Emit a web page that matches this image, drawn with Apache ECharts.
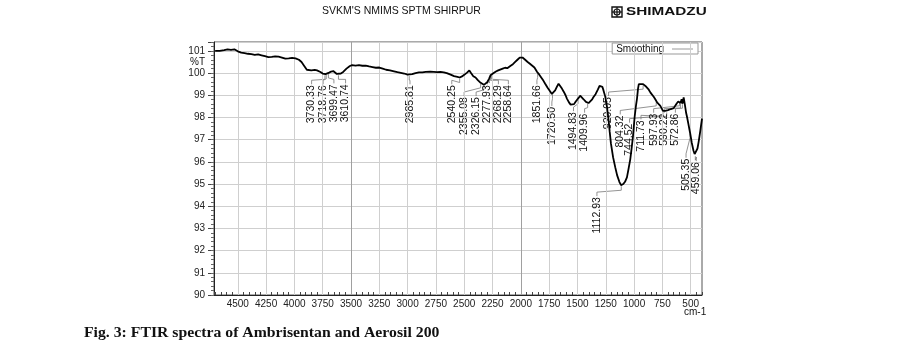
<!DOCTYPE html>
<html><head><meta charset="utf-8">
<script src="https://cdn.jsdelivr.net/npm/echarts@6/dist/echarts.min.js"></script>
<style>html,body{margin:0;padding:0;background:#fff}#c{width:903px;height:348px}</style>
</head><body><div id="c"></div>
<script>
// ---- data ----
const wavenumbers = [4700,4660,4620,4590,4560,4530,4500,4470,4440,4410,4380,4350,4320,4290,4260,4230,4200,4170,4140,4110,4080,4050,4020,3990,3960,3937,3910,3890,3878,3850,3820,3800,3770,3750,3740,3725,3710,3693,3675,3657,3640,3625,3613,3590,3569,3540,3510,3490,3460,3430,3400,3370,3340,3310,3280,3250,3220,3190,3156,3120,3090,3060,3030,3000,2986,2960,2930,2900,2870,2840,2800,2770,2740,2710,2680,2654,2620,2590,2560,2540,2520,2500,2475,2455,2440,2420,2400,2380,2355,2340,2326,2310,2295,2280,2268,2258,2240,2220,2200,2183,2160,2140,2120,2110,2090,2070,2050,2030,2010,2000,1985,1962,1940,1920,1903,1880,1856,1840,1820,1800,1785,1765,1745,1726,1710,1697,1680,1667,1655,1637,1620,1605,1593,1575,1560,1544,1530,1515,1500,1490,1476,1460,1446,1425,1402,1385,1370,1358,1340,1320,1305,1295,1280,1270,1255,1239,1225,1215,1204,1185,1166,1150,1130,1115,1107,1095,1080,1063,1050,1034,1022,1010,995,984,974,965,958,950,940,930,920,910,900,886,870,855,841,825,810,797,780,768,755,745,739,725,711,700,690,675,660,650,640,625,610,600,590,580,572,562,552,540,532,520,505,490,475,465,459,450,440,430,415,400];
const transmittance = [101.0,101.0,101.03,101.07,101.05,101.07,100.98,100.92,100.9,100.87,100.85,100.82,100.84,100.8,100.76,100.72,100.73,100.75,100.74,100.7,100.65,100.66,100.68,100.66,100.6,100.5,100.3,100.15,100.08,100.12,100.14,100.12,100.05,99.98,99.93,99.95,99.98,100.02,100.07,100.09,100.03,99.96,99.94,99.98,100.05,100.2,100.32,100.36,100.34,100.36,100.33,100.34,100.3,100.27,100.24,100.25,100.2,100.15,100.12,100.08,100.04,100.01,99.98,99.93,99.91,99.95,100.0,100.03,100.03,100.05,100.06,100.05,100.04,100.05,100.03,100.0,99.93,99.86,99.83,99.8,99.85,99.92,100.02,100.12,100.0,99.86,99.8,99.68,99.56,99.5,99.47,99.52,99.6,99.75,99.9,99.95,100.0,100.07,100.12,100.18,100.2,100.24,100.22,100.26,100.33,100.4,100.5,100.6,100.7,100.75,100.7,100.6,100.5,100.42,100.35,100.25,100.05,99.95,99.8,99.65,99.52,99.35,99.2,99.06,99.12,99.22,99.4,99.52,99.46,99.3,99.15,99.0,98.85,98.68,98.58,98.52,98.6,98.72,98.8,98.88,98.98,98.9,98.82,98.7,98.65,98.72,98.82,98.92,99.05,99.25,99.42,99.45,99.38,99.22,98.95,98.47,97.87,97.35,96.82,96.2,95.75,95.4,95.1,94.95,94.93,95.0,95.1,95.3,95.65,96.1,96.6,97.12,98.02,98.5,98.85,99.3,99.5,99.54,99.5,99.55,99.5,99.45,99.42,99.35,99.25,99.12,99.05,98.92,98.8,98.68,98.62,98.52,98.4,98.3,98.24,98.3,98.27,98.33,98.3,98.38,98.36,98.42,98.5,98.62,98.72,98.78,98.65,98.82,98.62,98.9,98.6,98.2,98.02,97.7,97.3,96.85,96.5,96.35,96.3,96.4,96.6,96.89,97.4,97.95];
const xTickLabels = [4500,4250,4000,3750,3500,3250,3000,2750,2500,2250,2000,1750,1500,1250,1000,750,500];
const yTickLabels = [90,91,92,93,94,95,96,97,98,99,100,101];
const peakLabels = ['3730.33','3718.76','3699.47','3610.74','2985.81','2540.25','2355.08','2326.15','2277.93','2268.29','2258.64','1851.66','1720.50','1494.83','1409.96','1112.93','920.05','804.32','744.52','711.73','597.93','590.22','572.86','505.35','459.06'];
const peakWavenumbers = [3730.33,3718.76,3699.47,3610.74,2985.81,2540.25,2355.08,2326.15,2277.93,2268.29,2258.64,1851.66,1720.50,1494.83,1409.96,1112.93,920.05,804.32,744.52,711.73,597.93,590.22,572.86,505.35,459.06];
const seriesName = 'Smoothing';
const titleText = "SVKM'S NMIMS SPTM SHIRPUR";
const brandText = 'SHIMADZU';
const yUnitText = '%T';
const xUnitText = 'cm-1';
const captionText = 'Fig. 3: FTIR spectra of Ambrisentan and Aerosil 200';

// ---- layout (label anchor = top end of each rotated peak label, in axis units) ----
const peakLabelAnchors = [[3848,99.45],[3746,99.45],[3651,99.49],[3548,99.49],[2979,99.45],[2610,99.45],[2501,98.92],[2395,98.92],[2295,99.45],[2198,99.45],[2110,99.45],[1858,99.45],[1726,98.47],[1535,98.24],[1437,98.17],[1328,94.41],[1225,98.92],[1122,98.09],[1040,97.72],[939,97.87],[827,98.17],[733,98.17],[635,98.17],[541,96.14],[450,95.99]];

function interpT(w){
  for(let i=0;i<wavenumbers.length-1;i++){
    const a=wavenumbers[i], b=wavenumbers[i+1];
    if(w<=a && w>=b){const t=(a-w)/(a-b);return transmittance[i]+(transmittance[i+1]-transmittance[i])*t;}
  }
  return transmittance[transmittance.length-1];
}

const FONT = '"Liberation Sans", Arial, sans-serif';
const chart = echarts.init(document.getElementById('c'), null, {renderer:'canvas'});
const curve = wavenumbers.map((w,i)=>[w, transmittance[i]]);
const peakData = peakWavenumbers.map((w,i)=>[w, interpT(w), peakLabelAnchors[i][0], peakLabelAnchors[i][1], i]);
const darkGrid = [3500, 2000];

chart.setOption({
  animation:false,
  backgroundColor:'#fff',
  grid:{left:214, right:201, top:42, bottom:53, show:true, borderColor:'#555', borderWidth:1, backgroundColor:'transparent'},
  legend:{
    data:[{name:seriesName, icon:'rect'}],
    right:205, top:43, align:'right', itemWidth:21, itemHeight:1,
    itemStyle:{color:'#999'},
    padding:[1,5,0,4], backgroundColor:'#fff', borderColor:'#999', borderWidth:1, borderRadius:0,
    textStyle:{fontFamily:FONT, fontSize:10, color:'#111', padding:[0,3,0,0]}, selectedMode:false
  },
  xAxis:{
    type:'value', inverse:true, min:400, max:4710, interval:50,
    axisLine:{show:true, onZero:false, lineStyle:{color:'#222', width:1}},
    axisTick:{show:true, inside:true, length:3, lineStyle:{color:'#444'}},
    axisLabel:{fontFamily:FONT, fontSize:10, color:'#222', margin:4,
      formatter:v=> xTickLabels.indexOf(v)>=0 ? String(v) : ''},
    splitLine:{show:false}
  },
  yAxis:[{
    type:'value', min:90, max:101.4, interval:1,
    axisLine:{show:true, onZero:false, lineStyle:{color:'#222', width:1}},
    axisTick:{show:true, length:6, lineStyle:{color:'#444'}},
    axisLabel:{fontFamily:FONT, fontSize:10, color:'#222', margin:9,
      formatter:v=> yTickLabels.indexOf(Math.round(v*1000)/1000)>=0 ? String(Math.round(v)) : ''},
    splitLine:{show:true, lineStyle:{color:'#cfcfcf', width:1}}
  },{
    type:'value', min:90, max:101.4, interval:0.2, position:'left',
    axisLine:{show:false}, axisTick:{show:true, length:3, lineStyle:{color:'#666'}},
    axisLabel:{show:false}, splitLine:{show:false}
  }],
  series:[
    {type:'line', name:'_grid', data:[], z:1, silent:true, symbol:'none',
      markLine:{silent:true, symbol:'none', animation:false, label:{show:false},
        data:xTickLabels.map(v=>({xAxis:v, lineStyle:{color: darkGrid.indexOf(v)>=0 ? '#a0a0a0' : '#cfcfcf', width:1, type:'solid'}}))}},
    {type:'line', name:seriesName, data:curve, symbol:'none', z:5,
      lineStyle:{color:'#000', width:1.8}, itemStyle:{color:'#000'}},
    {type:'custom', name:'_peaks', data:peakData, z:4, silent:true,
      renderItem:(params, api)=>{
        const pc = api.coord([api.value(0), api.value(1)]);
        const lc = api.coord([api.value(2), api.value(3)]);
        const txt = peakLabels[api.value(4)];
        return {type:'group', children:[
          {type:'polyline', shape:{points:[[pc[0],pc[1]+1],[pc[0],pc[1]+5],[lc[0],lc[1]-5],[lc[0],lc[1]-1]]},
            style:{stroke:'#777', lineWidth:0.8, fill:null}},
          {type:'text', x:lc[0], y:lc[1], rotation:Math.PI/2,
            style:{text:txt, font:'10.5px '+FONT, fill:'#111', align:'right', verticalAlign:'middle'}}
        ]};
      }}
  ],
  graphic:[
    {type:'text', x:322, y:11, style:{text:titleText, font:'10.5px '+FONT, fill:'#111', align:'left', verticalAlign:'middle'}},
    {type:'rect', shape:{x:612, y:7, width:10, height:10}, style:{fill:'#fff', stroke:'#111', lineWidth:1.4}},
    {type:'circle', shape:{cx:617, cy:12, r:3}, style:{fill:'none', stroke:'#111', lineWidth:1.2}},
    {type:'line', shape:{x1:612, y1:12, x2:622, y2:12}, style:{stroke:'#111', lineWidth:1.2}},
    {type:'line', shape:{x1:617, y1:7, x2:617, y2:17}, style:{stroke:'#111', lineWidth:1.2}},
    {type:'text', x:626, y:12, scaleX:1.39, style:{text:brandText, font:'bold 11px '+FONT, fill:'#111', align:'left', verticalAlign:'middle'}},
    {type:'text', x:190, y:62, style:{text:yUnitText, font:'10px '+FONT, fill:'#111', align:'left', verticalAlign:'middle'}},
    {type:'text', x:684, y:312, style:{text:xUnitText, font:'10px '+FONT, fill:'#111', align:'left', verticalAlign:'middle'}},
    {type:'text', x:84, y:333, scaleX:1.05, style:{text:captionText, font:'bold 15px "Liberation Serif", "Times New Roman", serif', fill:'#111', align:'left', verticalAlign:'middle'}}
  ]
});
</script></body></html>
